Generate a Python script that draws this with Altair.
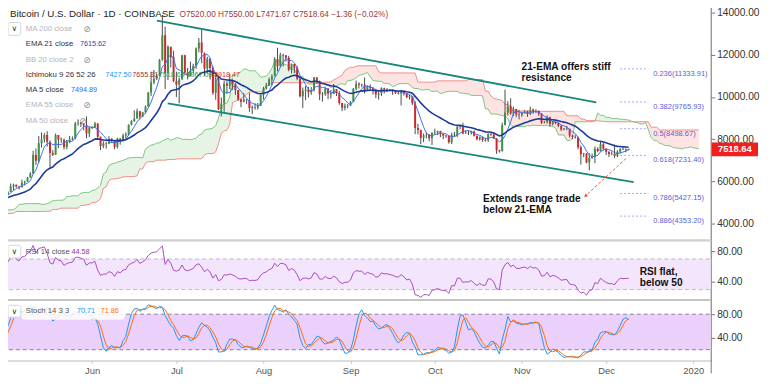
import pandas as pd
import numpy as np
import altair as alt

FONT = "Liberation Sans"

# ---------------- daily BTC/USD (Coinbase) data, read/estimated ----------------
start_date = "2019-02-10"

close_feb = [3661,3620,3630,3612,3593,3610,3640,3680,3910,3935,3980,3940,3983,4140,3750,3830,3810,3820,3820]
high_feb = [3670,3676,3660,3655,3625,3660,3680,3705,3965,4060,4000,4010,3995,4170,4210,3870,3840,3830,3895]
low_feb = [3585,3610,3585,3595,3570,3590,3610,3620,3670,3890,3905,3905,3930,3965,3725,3745,3790,3670,3790]

close_mar = [3830,3840,3810,3720,3860,3870,3880,3860,3940,3920,3860,3880,3870,3880,3920,4030,3990,3990,4030,4060,3990,4000,4010,4000,3930,3950,4070,4060,4140,4130,4110]
high_mar = [3860,3850,3850,3830,3875,3890,3905,3940,3965,3940,3925,3890,3890,3925,3940,4080,4030,4060,4040,4070,4080,4015,4025,4015,4010,3960,4080,4080,4160,4160,4140]
low_mar = [3810,3800,3790,3690,3710,3830,3855,3820,3860,3890,3840,3830,3850,3820,3870,3915,3965,3960,3975,4000,3945,3980,3990,3975,3910,3910,3945,4040,4050,4095,4100]

close_apr = [4150,4900,4980,4910,5050,5060,5200,5290,5190,5330,5020,5070,5070,5150,5040,5200,5240,5280,5280,5330,5280,5380,5510,5420,5200,5270,5280,5270,5220,5330]
high_apr = [4170,5100,5350,5080,5070,5250,5280,5340,5290,5470,5340,5100,5120,5180,5200,5240,5270,5320,5330,5350,5340,5480,5640,5620,5500,5440,5320,5320,5290,5370]
low_apr = [4080,4145,4800,4800,4910,4990,5050,5150,5150,5160,4990,4930,5040,5030,4990,5030,5180,5230,5220,5270,5220,5270,5370,5380,5060,5130,5240,5230,5180,5200]

close_may = [5400,5500,5760,5840,5760,5720,5940,5980,6180,6360,7250,6980,7810,7980,8200,7880,7350,7260,8200,7990,7960,7630,7880,7990,8050,8740,8780,8720,8660,8270,8550]
high_may = [5420,5530,5900,5890,5850,5790,6080,6030,6210,6450,7450,7560,8150,8320,8290,8380,7940,7480,8270,8190,8080,8030,7960,8150,8130,8820,8940,8820,8740,9080,8580]
low_may = [5320,5380,5490,5580,5700,5620,5710,5810,5980,6170,6360,6780,6880,7610,7840,7650,6600,7200,7250,7580,7820,7510,7520,7810,7940,8000,8640,8580,8420,8050,8100]

close_jun = [8560,8740,8120,7680,7790,7800,8000,7930,7630,8020,7920,8180,8230,8690,8860,8980,9330,9080,9280,9540,10210,10700,10860,11010,11750,12930,11130,12380,11880,10760]
high_jun = [8620,8820,8750,8120,7900,7880,8140,8060,7960,8070,8050,8260,8320,8700,8900,9370,9450,9340,9300,9600,10230,11200,11280,11100,11800,13880,13330,12450,12380,12200]
low_jun = [8480,8540,8060,7480,7570,7550,7760,7820,7520,7560,7740,7880,8040,8170,8660,8810,8970,8930,9050,9230,9530,10050,10610,10800,11000,11720,10380,10800,11400,10700]

close_jul = [10590,10830,11980,11150,10990,11250,11480,12300,12580,12100,11350,11810,11380,10200,10850,9430,9690,10640,10530,10770,10600,10330,9880,9780,9880,9850,9480,9530,9500,9590,10090]
high_jul = [11200,10920,11990,12000,11380,11680,11580,12350,12800,13200,12100,11910,11840,11460,11080,11000,9980,10770,10750,11100,10830,10680,10330,9920,10180,9880,10200,9600,9700,9720,10120]
low_jul = [10000,9700,10840,11080,10830,10980,11130,11340,12120,11600,11000,11100,10830,10100,9870,9380,9080,9300,10150,10370,10340,10100,9830,9520,9740,9670,9300,9200,9400,9400,9580]

close_aug = [10400,10530,10830,10980,11800,11470,11990,11980,11860,11290,11560,11390,10860,10030,10300,10360,10220,10320,10920,10760,10130,10130,10400,10150,10140,10370,10190,9720,9490,9590,9600]
high_aug = [10480,10670,10920,11080,11890,12330,12100,12050,11980,11950,11590,11550,11460,10870,10450,10530,10480,10480,10950,10950,10780,10240,10440,10420,10330,10620,10380,10290,9730,9690,9670]
low_aug = [9880,10350,10520,10560,10980,11220,11400,11450,11680,11220,11120,11130,10790,9980,9480,9850,9970,10100,10260,10620,9850,9780,10060,9900,9920,10140,10050,9630,9330,9370,9460]

close_sep = [9770,10390,10630,10580,10580,10320,10490,10410,10340,10120,10160,10420,10360,10360,10310,10270,10190,10160,10280,10170,9990,10030,9700,8530,8430,8070,8190,8210,8050,8300]
high_sep = [9810,10430,10780,10700,10630,10920,10550,10600,10480,10390,10260,10460,10440,10420,10380,10370,10280,10270,10340,10320,10180,10100,10030,9800,8730,8450,8270,8320,8240,8320]
low_sep = [9570,9770,10310,10400,10460,10170,10300,10300,10120,9950,9880,10050,10170,10240,10270,10100,10140,10120,9600,10070,9940,9880,9620,8240,8220,7760,7860,8040,7900,7720]

close_oct = [8330,8390,8240,8160,8150,7860,8210,8180,8590,8590,8270,8300,8290,8360,8160,8000,8090,7960,7950,8230,8220,8030,7470,7430,8660,9250,9550,9220,9430,9170,9150]
high_oct = [8500,8400,8400,8250,8190,8170,8310,8340,8660,8650,8780,8420,8420,8400,8410,8170,8130,8120,8060,8290,8330,8300,8050,7500,8790,10350,9800,9940,9540,9440,9390]
low_oct = [8200,8200,8100,8000,8060,7790,7770,8120,8100,8460,8230,8260,8200,8220,8130,7940,7930,7870,7880,7870,8160,8010,7300,7360,7420,8980,9120,9160,9100,9050,8940]

close_nov = [9250,9310,9200,9400,9300,9340,9200,8780,8800,9050,8720,8810,8760,8630,8460,8490,8500,8170,8120,8080,7620,7280,7320,6900,7110,7160,7530,7440,7760,7560]
high_nov = [9300,9380,9350,9540,9460,9420,9360,9230,8860,9120,9060,8870,8830,8790,8680,8530,8630,8500,8200,8210,8120,7700,7350,7330,7340,7320,7660,7620,7870,7830]
low_nov = [9060,9210,9060,9140,9200,9240,9110,8720,8750,8740,8590,8650,8710,8570,8390,8430,8420,8080,8000,8030,7530,6790,7150,6860,6520,7070,6860,7380,7410,7470]

close_dec = [7400,7300,7300,7200,7400,7540,7510,7520,7518.64]
high_dec = [7540,7420,7420,7750,7480,7580,7620,7560,7550]
low_dec = [7250,7150,7240,7100,7150,7320,7490,7380,7471.67]

# Fibonacci retracement levels shown on the chart
fib_ratios = [0.236, 0.382, 0.5, 0.618, 0.786, 0.886]
fib_levels = [11333.91, 9765.93, 8498.67, 7231.40, 5427.15, 4353.20]

# Legend read-outs (as printed on the chart)
ohlc_text = "O7520.00  H7550.00  L7471.67  C7518.64  \u22121.36 (\u22120.02%)"
ema21_value = "7615.62"
ma5_value = "7494.89"
ichimoku_values = ["7427.50", "7655.31", "7518.64", "8967.09", "8918.47"]
rsi_value = "44.58"
stoch_values = ["70.71", "71.86"]
last_price = 7518.64

# ---------------- build frame & indicators ----------------
closes = close_feb + close_mar + close_apr + close_may + close_jun + close_jul + close_aug + close_sep + close_oct + close_nov + close_dec
highs = high_feb + high_mar + high_apr + high_may + high_jun + high_jul + high_aug + high_sep + high_oct + high_nov + high_dec
lows = low_feb + low_mar + low_apr + low_may + low_jun + low_jul + low_aug + low_sep + low_oct + low_nov + low_dec
assert len(closes) == len(highs) == len(lows)

dates = pd.date_range(start_date, periods=len(closes), freq="D")
df = pd.DataFrame({"date": dates, "close": closes, "high": highs, "low": lows})
df["open"] = df["close"].shift(1).fillna(df["close"])
df["ema21"] = df["close"].ewm(span=21, adjust=False).mean()
df["ma5"] = df["close"].rolling(5).mean()

tenkan = (df["high"].rolling(9).max() + df["low"].rolling(9).min()) / 2
kijun = (df["high"].rolling(26).max() + df["low"].rolling(26).min()) / 2
spanA = (tenkan + kijun) / 2
spanB = (df["high"].rolling(52).max() + df["low"].rolling(52).min()) / 2
cloud = pd.DataFrame({"date": df["date"] + pd.Timedelta(days=25), "a": spanA, "b": spanB}).dropna()
cloud["top"] = cloud[["a", "b"]].max(axis=1)

delta = df["close"].diff()
gain = delta.clip(lower=0)
loss = (-delta).clip(lower=0)
ag = gain.ewm(alpha=1 / 14, adjust=False).mean()
al = loss.ewm(alpha=1 / 14, adjust=False).mean()
df["rsi"] = 100 - 100 / (1 + ag / al)

ll = df["low"].rolling(14).min()
hh = df["high"].rolling(14).max()
kraw = 100 * (df["close"] - ll) / (hh - ll)
df["k"] = kraw.rolling(3).mean()
df["d"] = df["k"].rolling(3).mean()

df["dir"] = np.where(df["close"] >= df["open"], "up", "down")
bmin = df[["open", "close"]].min(axis=1)
bmax = df[["open", "close"]].max(axis=1)
mid = (bmin + bmax) / 2
thin = (bmax - bmin) < 30
df["b0"] = np.where(thin, mid - 15, bmin)
df["b1"] = np.where(thin, mid + 15, bmax)


def ms(s):
    return int(pd.Timestamp(s).value // 10**6)


df["t"] = df["date"].astype("int64") // 10**6
cloud["t"] = cloud["date"].astype("int64") // 10**6

vis = df[df["date"] >= "2019-04-30"].drop(columns=["date"]).reset_index(drop=True)
cvis = cloud[cloud["date"] >= "2019-04-30"].drop(columns=["date"]).reset_index(drop=True)

# ---------------- scales ----------------
xscale = alt.Scale(type="utc", domain=[ms("2019-04-29T22:44"), ms("2020-01-07T05:31")])
ymain = alt.Scale(domain=[3205.6, 14420.6], nice=False, zero=False)
yrsi = alt.Scale(domain=[17.1, 94.5], nice=False, zero=False)
ysto = alt.Scale(domain=[1.67, 105], nice=False, zero=False)

axis_common = dict(orient="right", grid=False, title=None, format=".2f",
                   domainColor="#787878", tickColor="#787878", tickSize=4,
                   labelColor="#333333", labelFontSize=10.3, labelPadding=2, labelFont=FONT)
ax_main = alt.Axis(values=[4000, 6000, 8000, 10000, 12000, 14000], **axis_common)
ax_rsi = alt.Axis(values=[40, 80], **axis_common)
ax_sto = alt.Axis(values=[40, 80], **axis_common)


def X(field="t", axis=None):
    return alt.X(f"{field}:T", scale=xscale, axis=axis)


def YM(field):
    return alt.Y(field, type="quantitative", scale=ymain, axis=ax_main)


def YR(field):
    return alt.Y(field, type="quantitative", scale=yrsi, axis=ax_rsi)


def YS(field):
    return alt.Y(field, type="quantitative", scale=ysto, axis=ax_sto)


dummy = pd.DataFrame({"z": [0]})


def txt(s, x, y, color="#333333", size=8.0, bold=False, align="left", font=FONT):
    return alt.Chart(dummy).mark_text(
        text=s, align=align, baseline="middle", color=color, fontSize=size,
        fontWeight="bold" if bold else "normal", font=font
    ).encode(x=alt.value(x), y=alt.value(y))


def box(x0, x1, y0, y1, fill="white", stroke="#d1d4dc", opacity=1.0):
    return alt.Chart(dummy).mark_rect(fill=fill, stroke=stroke, strokeWidth=1, opacity=opacity,
                                      cornerRadius=2).encode(
        x=alt.value(x0), x2=alt.value(x1), y=alt.value(y0), y2=alt.value(y1))


def chevron(x0, x1, y0, y1):
    return [box(x0, x1, y0, y1),
            txt("\u2228", (x0 + x1) / 2, (y0 + y1) / 2 + 0.5, "#333333", 8, align="center", font="DejaVu Sans")]


# ---------------- main price panel ----------------
green_fill = alt.Chart(cvis).mark_area(color="#4caf50", opacity=0.14, clip=True).encode(x=X(), y=YM("b"), y2="top")
red_fill = alt.Chart(cvis).mark_area(color="#f44336", opacity=0.14, clip=True).encode(x=X(), y=YM("a"), y2="top")
lineA = alt.Chart(cvis).mark_line(color="#7cc47f", strokeWidth=1, clip=True).encode(x=X(), y=YM("a"))
lineB = alt.Chart(cvis).mark_line(color="#f28b82", strokeWidth=1, clip=True).encode(x=X(), y=YM("b"))

wicks = alt.Chart(vis).mark_rule(color="#4a4a4a", strokeWidth=1, clip=True).encode(x=X(), y=YM("low"), y2="high")
bodies = alt.Chart(vis).mark_rule(strokeWidth=2, clip=True).encode(
    x=X(), y=YM("b0"), y2="b1",
    color=alt.Color("dir:N", scale=alt.Scale(domain=["up", "down"], range=["#3f8f46", "#d1272f"]), legend=None))
ma5 = alt.Chart(vis).mark_line(color="#3d6ff0", strokeWidth=1, clip=True).encode(x=X(), y=YM("ma5"))
ema21 = alt.Chart(vis).mark_line(color="#1c3a9a", strokeWidth=1.6, clip=True).encode(x=X(), y=YM("ema21"))

channel_df = pd.DataFrame({
    "t1": [ms("2019-06-24T01:00"), ms("2019-06-27T21:36")],
    "p1": [13626, 9701],
    "t2": [ms("2019-11-27T12:00"), ms("2019-12-10T19:00")],
    "p2": [9748, 5963],
})
channel = alt.Chart(channel_df).mark_rule(color="#16877b", strokeWidth=1.8).encode(
    x=X("t1"), x2="t2:T", y=YM("p1"), y2="p2")

fib_df = pd.DataFrame({"level": fib_levels, "ratio": fib_ratios})
fib_df["label"] = [f"{r}({l:.2f})" for r, l in zip(fib_ratios, fib_levels)]
fib_df["ts"] = ms("2019-12-06")
fib_df["te"] = ms("2019-12-16")
fib_df["tl"] = ms("2019-12-17T18:00")
fib_lines = alt.Chart(fib_df).mark_rule(color="#9fa8f0", strokeWidth=1, strokeDash=[2, 2]).encode(
    x=X("ts"), x2="te:T", y=YM("level"))
fib_text = alt.Chart(fib_df).mark_text(align="left", baseline="middle", dy=5, fontSize=7.6,
                                       color="#5b5fd8", font=FONT).encode(
    x=X("tl"), y=YM("level"), text="label:N")

arrow_df = pd.DataFrame({"t1": [ms("2019-12-08T01:00")], "p1": [7084],
                         "t2": [ms("2019-11-23T16:00")], "p2": [5308]})
arrow = alt.Chart(arrow_df).mark_rule(color="#f0574c", strokeWidth=1, strokeDash=[3, 2]).encode(
    x=X("t1"), x2="t2:T", y=YM("p1"), y2="p2")
arrowhead = alt.Chart(arrow_df).mark_point(shape="triangle-up", angle=227, size=18, filled=True,
                                           color="#f0574c", opacity=1).encode(x=X("t2"), y=YM("p2"))

price_df = pd.DataFrame({"p": [last_price], "pt": [last_price + 7.0 / 0.0214],
                         "pb": [last_price - 7.0 / 0.0214], "label": [f"{last_price:.2f}"]})
price_rect = alt.Chart(price_df).mark_rect(color="#f21d1d").encode(
    x=alt.value(720), x2=alt.value(767), y=YM("pt"), y2="pb")
price_text = alt.Chart(price_df).mark_text(color="white", fontWeight="bold", fontSize=9.5, font=FONT,
                                           align="center", baseline="middle").encode(
    x=alt.value(743.5), y=YM("p"), text="label:N")

gray = "#b2b5be"
dark = "#333333"
LS = 7.9   # legend label size
VS = 7.3   # legend value size
main_text = [
    txt("Bitcoin / U.S. Dollar \u00b7 1D \u00b7 COINBASE", 8, 10.5, "#222222", 9.9),
    txt(ohlc_text, 180, 10.5, "#9b3b3b", 8.4),
    *chevron(6, 19, 19, 32),
    txt("MA 200 close", 24, 26, gray, LS),
    txt("\u2298", 86, 26, "#8a8a8a", 9, align="center", font="DejaVu Sans"),
    txt("EMA 21 close", 24, 41, dark, LS),
    txt(ema21_value, 79, 41, "#2745a8", VS),
    txt("BB 20 close 2", 24, 57, gray, LS),
    txt("\u2298", 86, 57, "#8a8a8a", 9, align="center", font="DejaVu Sans"),
    txt("Ichimoku 9 26 52 26", 24, 72, dark, LS),
    txt(ichimoku_values[0], 105, 72, "#2196f3", VS),
    txt(ichimoku_values[1], 132, 72, "#993333", VS),
    txt(ichimoku_values[2], 159, 72, "#4b9a4b", VS),
    txt(ichimoku_values[3], 187, 72, "#3c8c3c", VS),
    txt(ichimoku_values[4], 215, 72, "#e03030", VS),
    txt("MA 5 close", 24, 88, dark, LS),
    txt(ma5_value, 70, 88, "#2962ff", VS),
    txt("EMA 55 close", 24, 103, gray, LS),
    txt("\u2298", 86, 103, "#8a8a8a", 9, align="center", font="DejaVu Sans"),
    txt("MA 50 close", 24, 118.5, gray, LS),
    txt("\u2298", 82, 118.5, "#8a8a8a", 9, align="center", font="DejaVu Sans"),
    txt("21-EMA offers stiff", 527, 64, "#111111", 10.3, bold=True),
    txt("resistance", 527, 75.5, "#111111", 10.3, bold=True),
    txt("Extends range trade", 488, 198, "#111111", 10.3, bold=True),
    txt("below 21-EMA", 488, 209.5, "#111111", 10.3, bold=True),
]

main = alt.layer(
    green_fill, red_fill, lineA, lineB, wicks, bodies, ma5, ema21,
    channel, fib_lines, fib_text, arrow, arrowhead, price_rect, price_text, *main_text
).properties(width=719, height=240)

# ---------------- RSI panel ----------------
rsi_band_df = pd.DataFrame({"hi": [70], "lo": [30]})
rsi_band = alt.Chart(rsi_band_df).mark_rect(color="#f3e5fb").encode(
    x=alt.value(0), x2=alt.value(719), y=YR("hi"), y2="lo")
rsi_lines_df = pd.DataFrame({"v": [70, 30]})
rsi_dash = alt.Chart(rsi_lines_df).mark_rule(color="#c4b0d6", strokeDash=[4, 3], strokeWidth=1).encode(
    x=alt.value(0), x2=alt.value(719), y=YR("v"))
rsi_line = alt.Chart(vis).mark_line(color="#a94bc4", strokeWidth=1, clip=True).encode(x=X(), y=YR("rsi"))
sep1 = alt.Chart(dummy).mark_rule(color="#cfcfcf", strokeWidth=2).encode(
    x=alt.value(0), x2=alt.value(719), y=alt.value(0))
rsi_text = [
    *chevron(6, 19, 5, 18),
    txt("RSI 14 close", 24, 12, "#555555", LS),
    txt(rsi_value, 70.5, 12, "#9c27b0", VS),
    txt("RSI flat,", 647, 32, "#111111", 10.3, bold=True),
    txt("below 50", 647, 43.5, "#111111", 10.3, bold=True),
]
rsi = alt.layer(rsi_band, rsi_dash, rsi_line, sep1, *rsi_text).properties(width=719, height=60)

# ---------------- Stochastic panel ----------------
month_ticks = [ms(s) for s in ["2019-06-01", "2019-07-01", "2019-08-01", "2019-09-01",
                               "2019-10-01", "2019-11-01", "2019-12-01", "2020-01-01"]]
x_axis = alt.Axis(values=month_ticks, grid=False, title=None,
                  labelExpr="utcmonth(datum.value) == 0 ? utcFormat(datum.value, '%Y') : utcFormat(datum.value, '%b')",
                  domainColor="#c8c8c8", tickColor="#c8c8c8", tickSize=3, labelColor="#555555",
                  labelFontSize=9.5, labelPadding=2, labelFont=FONT)
sto_band_df = pd.DataFrame({"hi": [80], "lo": [20]})
sto_band = alt.Chart(sto_band_df).mark_rect(color="#ead0fb").encode(
    x=alt.value(0), x2=alt.value(719), y=YS("hi"), y2="lo")
sto_lines_df = pd.DataFrame({"v": [80, 20]})
sto_dash = alt.Chart(sto_lines_df).mark_rule(color="#8a7f99", strokeDash=[4, 3], strokeWidth=1).encode(
    x=alt.value(0), x2=alt.value(719), y=YS("v"))
k_line = alt.Chart(vis).mark_line(color="#2196f3", strokeWidth=1, clip=True).encode(x=X(axis=x_axis), y=YS("k"))
d_line = alt.Chart(vis).mark_line(color="#ff6d00", strokeWidth=1, clip=True).encode(x=X(axis=x_axis), y=YS("d"))
sep2 = alt.Chart(dummy).mark_rule(color="#b8b8b8", strokeWidth=1.5).encode(
    x=alt.value(0), x2=alt.value(719), y=alt.value(0.5))
vline = alt.Chart(dummy).mark_rule(color="#787878", strokeWidth=1).encode(
    x=alt.value(719.5), y=alt.value(62), y2=alt.value(75))
sto_text = [
    box(20, 124, 5, 20, fill="white", stroke="white", opacity=0.85),
    *chevron(6, 19, 6, 18),
    txt("Stoch 14 3 3", 24, 12, "#555555", LS),
    txt(stoch_values[0], 76, 12, "#2196f3", VS),
    txt(stoch_values[1], 100, 12, "#ff6d00", VS),
]
sto = alt.layer(sto_band, sto_dash, k_line, d_line, sep2, vline, *sto_text).properties(width=719, height=62)

chart = alt.vconcat(main, rsi, sto, spacing=0, bounds="flush").properties(
    padding={"left": -8, "top": -8, "right": 0, "bottom": -1}
).configure_view(stroke=None).configure(background="white")

chart.save("out.html", embed_options={"renderer": "svg", "actions": False})
